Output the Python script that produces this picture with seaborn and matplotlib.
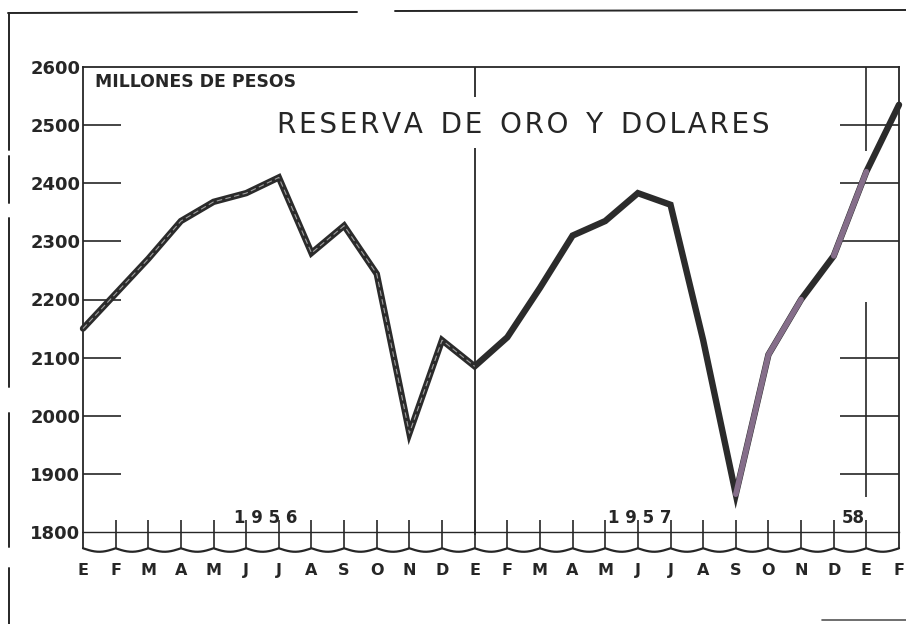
import numpy as np
import pandas as pd
import matplotlib
matplotlib.use("Agg")
import matplotlib.pyplot as plt
import seaborn as sns
from matplotlib.lines import Line2D

# ---- data ----
months = ["E", "F", "M", "A", "M", "J", "J", "A", "S", "O", "N", "D",
          "E", "F", "M", "A", "M", "J", "J", "A", "S", "O", "N", "D",
          "E", "F"]
reserves = [2150, 2210, 2270, 2335, 2368, 2383, 2410, 2280, 2327, 2244, 1970, 2130,
            2085, 2135, 2220, 2310, 2335, 2383, 2363, 2130, 1865, 2105, 2200, 2275,
            2420, 2535]
year_labels = ["1 9 5 6", "1 9 5 7", "58"]
year_pos = [5.6, 17.05, 23.6]
y_ticks = [1800, 1900, 2000, 2100, 2200, 2300, 2400, 2500, 2600]
title = "RESERVA DE ORO Y DOLARES"
unit_label = "MILLONES DE PESOS"

sns.set_theme(style="white")
plt.rcParams["font.family"] = ["DejaVu Sans"]

INK = "#262626"
W, H = 906, 624
fig = plt.figure(figsize=(W / 100, H / 100), dpi=100)
fig.patch.set_facecolor("white")
ax = fig.add_axes([83 / W, (H - 532) / H, (899 - 83) / W, 465 / H])
ax.set_facecolor("white")

df = pd.DataFrame({"mes": np.arange(len(reserves)), "reserva": reserves})

sns.lineplot(data=df, x="mes", y="reserva", ax=ax, color="#2b2b2b", lw=4.6,
             solid_joinstyle="miter", clip_on=False, zorder=5)
# light core of the 1956 stroke
sns.lineplot(data=df.iloc[:13], x="mes", y="reserva", ax=ax, color="white", lw=0.8,
             alpha=0.55, linestyle=(0, (5, 3)), clip_on=False, zorder=6)
# tinted parts of the 1957 stroke
sns.lineplot(data=df.iloc[20:23], x="mes", y="reserva", ax=ax, color="#856e8a",
             lw=4.0, clip_on=False, zorder=6)
sns.lineplot(data=df.iloc[23:25], x="mes", y="reserva", ax=ax, color="#856e8a",
             lw=4.0, clip_on=False, zorder=6)

ax.set_xlim(0, 25)
ax.set_ylim(1800, 2600)
ax.set_xlabel("")
ax.set_ylabel("")

for side in ["left", "top", "right", "bottom"]:
    ax.spines[side].set_visible(True)
    ax.spines[side].set_color(INK)
    ax.spines[side].set_linewidth(1.3)
ax.spines["bottom"].set_linewidth(1.0)

ax.set_yticks(y_ticks)
ax.set_yticklabels([str(v) for v in y_ticks], fontweight="bold", fontsize=13, color=INK)
ax.tick_params(axis="y", length=0, pad=2)
ax.set_xticks(range(len(months)))
ax.set_xticklabels(months, fontweight="bold", fontsize=11.5, color=INK)
ax.tick_params(axis="x", length=0, pad=22)
ax.grid(False)

# left and right tick segments
ax.hlines(y_ticks[1:8], 0, 1.15, color=INK, lw=1.2)
ax.hlines([1900, 2000, 2100, 2300, 2400, 2500], 23.2, 25, color=INK, lw=1.2)

# month ticks at the bottom
ax.vlines(range(1, 25), 1770, 1820, color=INK, lw=1.2, clip_on=False)
ax.vlines([0, 25], 1770, 1800, color=INK, lw=1.3, clip_on=False)

# scalloped break line
t = np.linspace(0, 1, 24)
wx = np.concatenate([i + t for i in range(25)])
wy = np.concatenate([1772 - 6 * np.sin(np.pi * t) for _ in range(25)])
ax.plot(wx, wy, color=INK, lw=1.6, clip_on=False)

# year dividers
ax.vlines(12, 2548, 2600, color=INK, lw=1.3)
ax.vlines(12, 1795, 2460, color=INK, lw=1.3, clip_on=False)
ax.vlines(24, 2455, 2600, color=INK, lw=1.2)
ax.vlines(24, 1860, 2195, color=INK, lw=1.2)

for lab, xp in zip(year_labels, year_pos):
    ax.text(xp, 1824, lab, ha="center", va="center", fontsize=12,
            fontweight="bold", color=INK)

ax.text(0.37, 2574, unit_label, ha="left", va="center", fontsize=12.4,
        fontweight="bold", color=INK)
# title with the wide letter spacing of the original lettering
spaced_title = "  ".join("\u200a".join(word) for word in title.split(" "))
ax.text(13.5, 2500, spaced_title, ha="center", va="center", fontsize=20, color=INK)

# outer frame of the page
def fline(x0, y0, x1, y1, lw=1.4, color=INK):
    fig.add_artist(Line2D([x0 / W, x1 / W], [1 - y0 / H, 1 - y1 / H],
                          transform=fig.transFigure, color=color, lw=lw))

fline(8, 13, 357, 12)
fline(395, 11, 906, 10)
for y0, y1 in [(13, 150), (156, 203), (218, 387), (413, 547), (568, 624)]:
    fline(9, y0, 9, y1)
fline(822, 620, 906, 620, lw=1.2, color="#555555")

fig.savefig("out.png", dpi=100, facecolor="white")
